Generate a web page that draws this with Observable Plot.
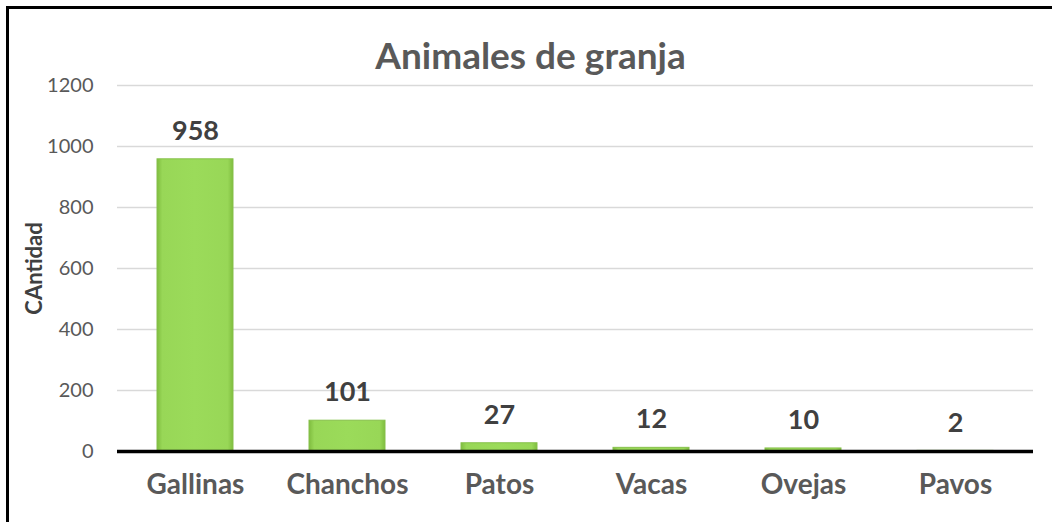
<!DOCTYPE html>
<html>
<head>
<meta charset="utf-8">
<script src="https://cdn.jsdelivr.net/npm/d3@7"></script>
<script src="https://cdn.jsdelivr.net/npm/@observablehq/plot@0.6"></script>
<style>
  html, body { margin: 0; padding: 0; background: #fff; overflow: hidden; width: 1052px; height: 522px; }
  #frame { position: absolute; left: 6px; top: 6px; width: 1100px; height: 600px; border: 3px solid #000; box-sizing: border-box; background: #fff; }
  #title { height: 66px; box-sizing: border-box; padding-top: 28px; line-height: 36px; font-family: Lato, sans-serif; font-weight: 700; font-size: 37px; color: #595959; text-align: center; width: 1043px; margin: 0; }
  #chart svg { display: block; }
</style>
</head>
<body>
<div id="frame">
  <div id="title">Animales de granja</div>
  <div id="chart"></div>
</div>
<script>
const categories = ["Gallinas", "Chanchos", "Patos", "Vacas", "Ovejas", "Pavos"];
const values = [958, 101, 27, 12, 10, 2];
const yTicks = [0, 200, 400, 600, 800, 1000, 1200];
const yLabel = "CAntidad";

const data = categories.map((c, i) => ({category: c, value: values[i]}));
const font = "Lato, sans-serif";

const plot = Plot.plot({
  width: 1043,
  height: 447,
  marginLeft: 108,
  marginRight: 19,
  marginTop: 10,
  marginBottom: 71,
  style: {fontFamily: font, background: "transparent", overflow: "visible"},
  x: {domain: categories, paddingInner: 0.5, paddingOuter: 0.25, axis: null},
  y: {domain: [0, 1200], axis: null},
  marks: [
    Plot.gridY(yTicks, {stroke: "#d9d9d9", strokeOpacity: 1, strokeWidth: 1.5}),
    Plot.axisY(yTicks, {
      tickSize: 0, tickPadding: 24, fontSize: 20, fill: "#595959",
      tickFormat: d => String(d),
      label: yLabel, labelAnchor: "center", labelOffset: 91, labelArrow: "none"
    }),
    Plot.barY(data, {x: "category", y: "value", fill: "#9bdb5a", stroke: "#86c04a", strokeWidth: 1}),
    Plot.ruleY([0], {stroke: "#000", strokeWidth: 3.5}),
    Plot.text(data, {x: "category", y: "value", text: d => String(d.value), dy: -28, fontSize: 27, fontWeight: "bold", fill: "#404040"}),
    Plot.text(data, {x: "category", frameAnchor: "bottom", text: "category", dy: 42, fontSize: 28, fontWeight: "bold", fill: "#595959"})
  ]
});

document.getElementById("chart").appendChild(plot);

// gradient for bevelled bars
const svg = d3.select(plot);
const defs = svg.insert("defs", ":first-child");
const g = defs.append("linearGradient").attr("id", "barGrad").attr("x1", "0").attr("x2", "1").attr("y1", "0").attr("y2", "0");
[[0, "#7fbd3f"], [0.07, "#98d757"], [0.5, "#9bdb5a"], [0.93, "#98d757"], [1, "#7fbd3f"]]
  .forEach(([o, c]) => g.append("stop").attr("offset", o).attr("stop-color", c));
svg.selectAll("g[aria-label='bar'] rect").attr("fill", "url(#barGrad)");

// y-axis label styling
svg.selectAll("g[aria-label='y-axis label'] text, g[aria-label='y-axis label']")
  .attr("font-size", 22).attr("font-weight", "bold").attr("fill", "#404040");
</script>
</body>
</html>
